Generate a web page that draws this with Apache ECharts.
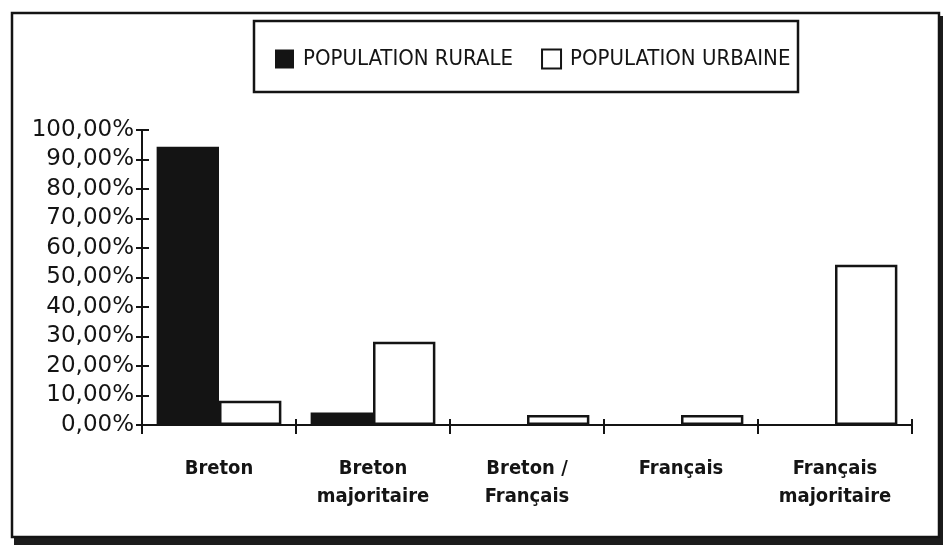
<!DOCTYPE html>
<html>
<head>
<meta charset="utf-8">
<script src="https://cdn.jsdelivr.net/npm/echarts@6/dist/echarts.min.js"></script>
<style>
html, body { margin: 0; padding: 0; background: #fff; }
#chart { width: 943px; height: 545px; }
</style>
</head>
<body>
<div id="chart"></div>
<script>
var categories = ['Breton', 'Breton\nmajoritaire', 'Breton /\nFrançais', 'Français', 'Français\nmajoritaire'];
var rurale = [94.3, 4.2, 0, 0, 0];
var urbaine = [8.2, 28.2, 3.4, 3.4, 54.3];
var yTicks = [0, 10, 20, 30, 40, 50, 60, 70, 80, 90, 100];

var ink = '#141414';
var dom = document.getElementById('chart');
var myChart = echarts.init(dom);

option = {
    backgroundColor: '#fff',
    animation: false,
    graphic: [
        // cadre + ombre
        { type: 'rect', z: -10, shape: { x: 14, y: 537, width: 929, height: 8 }, style: { fill: '#1c1c1c' } },
        { type: 'rect', z: -10, shape: { x: 939, y: 16, width: 4, height: 529 }, style: { fill: '#1c1c1c' } },
        { type: 'rect', z: -5, shape: { x: 12, y: 13, width: 927, height: 524 }, style: { fill: '#fff', stroke: ink, lineWidth: 2.5 } },
        // boite de légende
        { type: 'rect', z: -4, shape: { x: 254, y: 21, width: 544, height: 71 }, style: { fill: '#fff', stroke: ink, lineWidth: 2.5 } }
    ],
    legend: {
        left: 270,
        top: 43,
        itemWidth: 19,
        itemHeight: 19,
        itemGap: 28,
        icon: 'rect',
        textStyle: {
            fontFamily: 'DejaVu Sans Condensed, DejaVu Sans',
            fontSize: 22,
            color: ink,
            padding: [0, 0, 0, 4]
        },
        data: ['POPULATION RURALE', 'POPULATION URBAINE']
    },
    grid: {
        left: 142,
        right: 31,
        top: 130,
        bottom: 120
    },
    xAxis: [
        {
            type: 'category',
            data: categories,
            axisLine: { lineStyle: { color: ink, width: 2 } },
            axisTick: { show: true, length: 9, lineStyle: { color: ink, width: 2 } },
            axisLabel: {
                color: ink,
                fontFamily: 'DejaVu Sans Condensed, DejaVu Sans',
                fontWeight: 'bold',
                fontSize: 20,
                lineHeight: 28,
                margin: 30
            }
        },
        {
            type: 'category',
            data: categories,
            position: 'bottom',
            axisLine: { show: false },
            axisTick: { show: true, inside: true, length: 6, lineStyle: { color: ink, width: 2 } },
            axisLabel: { show: false }
        }
    ],
    yAxis: [
        {
            type: 'value',
            min: 0,
            max: 100,
            interval: 10,
            splitLine: { show: false },
            axisLine: { show: true, lineStyle: { color: ink, width: 2 } },
            axisTick: { show: true, length: 6, lineStyle: { color: ink, width: 2 } },
            axisLabel: {
                color: ink,
                fontFamily: 'DejaVu Sans',
                fontSize: 23,
                margin: 8,
                customValues: yTicks,
                formatter: function (v) { return v + ',00%'; }
            }
        },
        {
            type: 'value',
            min: 0,
            max: 100,
            interval: 10,
            position: 'left',
            splitLine: { show: false },
            axisLine: { show: false },
            axisTick: { show: true, inside: true, length: 7, lineStyle: { color: ink, width: 2 } },
            axisLabel: { show: false }
        }
    ],
    series: [
        {
            name: 'POPULATION RURALE',
            type: 'bar',
            data: rurale,
            barGap: '0%',
            barCategoryGap: '19%',
            itemStyle: { color: ink, borderWidth: 0 }
        },
        {
            name: 'POPULATION URBAINE',
            type: 'bar',
            data: urbaine,
            itemStyle: { color: '#fff', borderColor: ink, borderWidth: 2.5 }
        }
    ]
};

myChart.setOption(option);
</script>
</body>
</html>
